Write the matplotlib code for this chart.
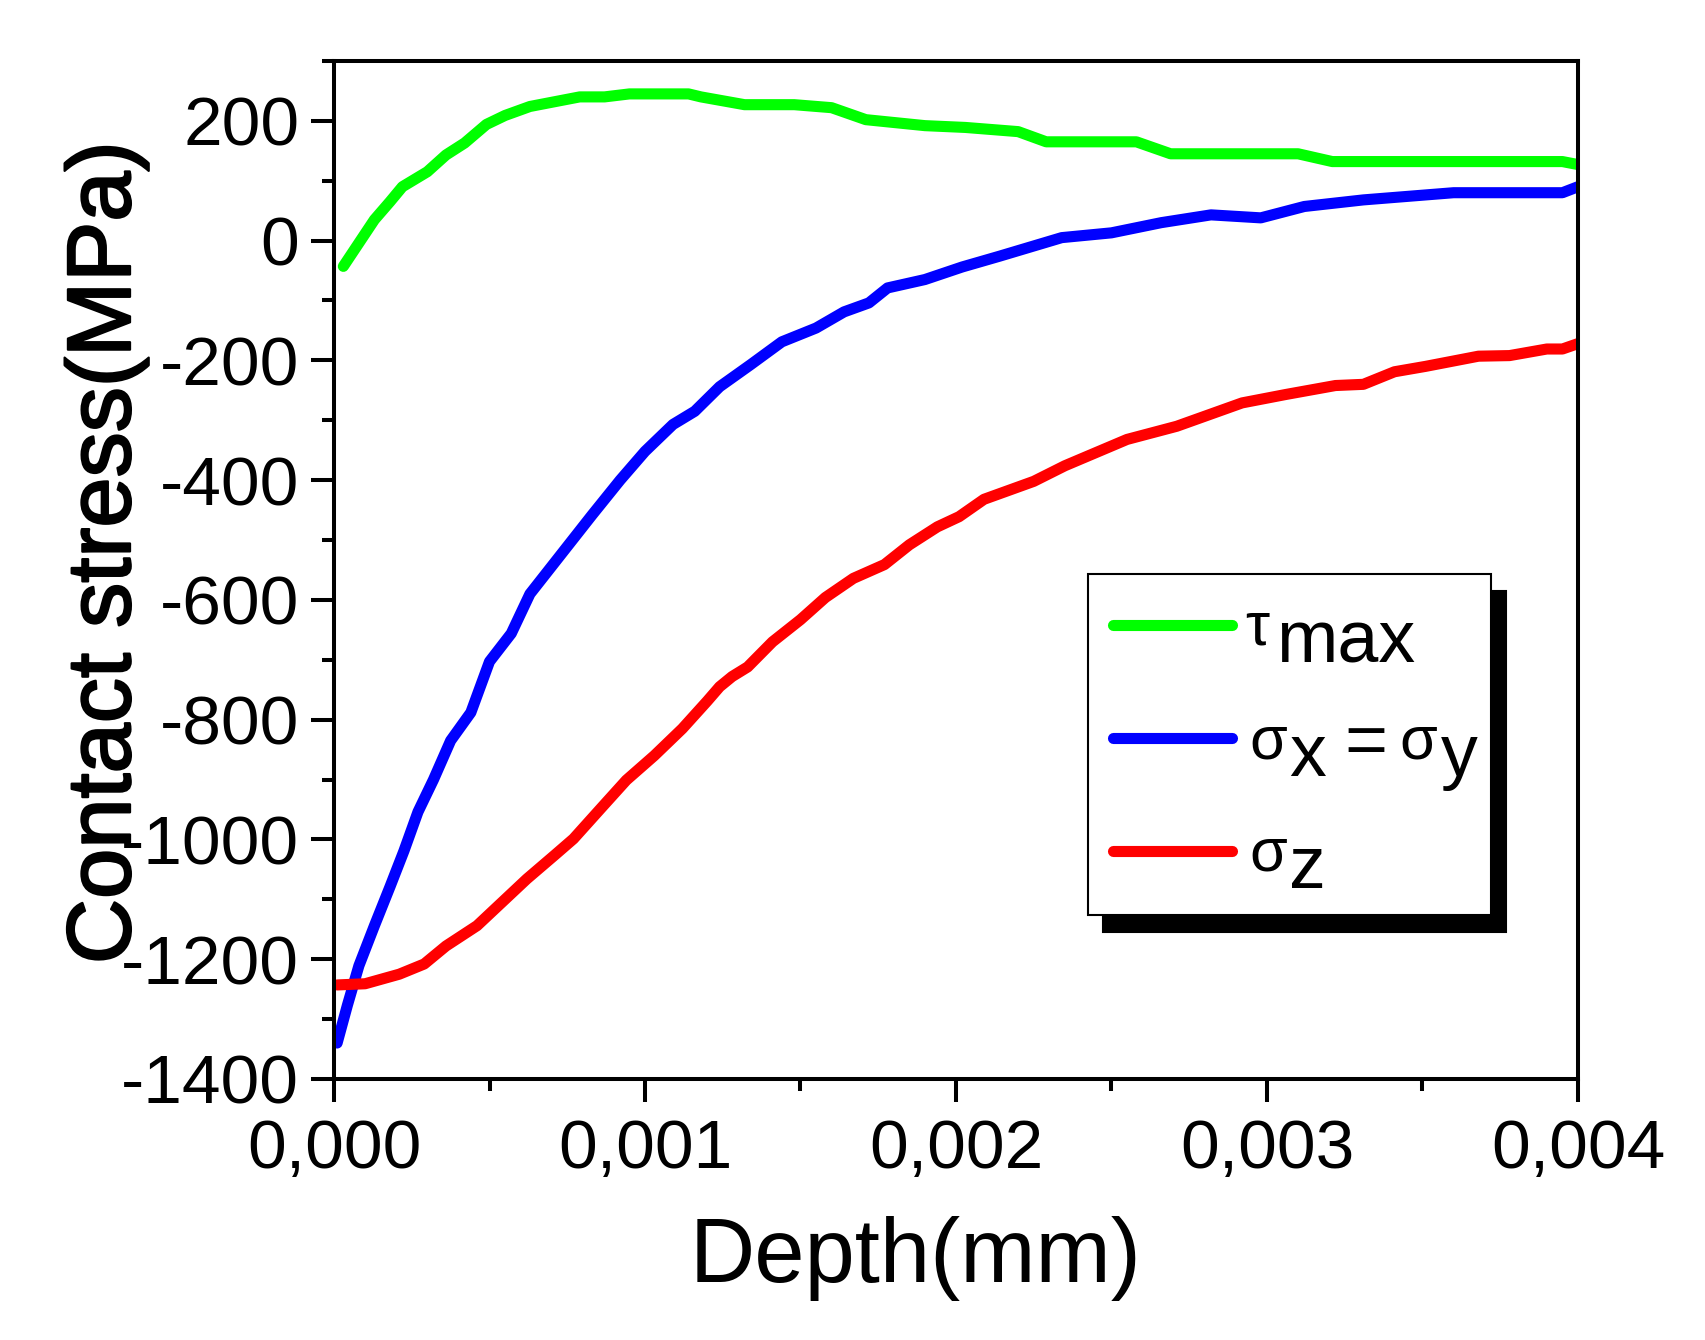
import matplotlib
matplotlib.use('Agg')
import matplotlib.pyplot as plt
import matplotlib.patheffects as pe
from matplotlib.ticker import MultipleLocator, FuncFormatter

plt.rcParams['font.family'] = ['Liberation Sans', 'DejaVu Sans']
plt.rcParams['axes.unicode_minus'] = False

# valores (profundidad en mm, tension en MPa)
depth_tau = [0.00003, 0.00008, 0.00013, 0.00018, 0.00022, 0.0003, 0.00036, 0.00042,
             0.00049, 0.00055, 0.00063, 0.00071, 0.00079, 0.00087, 0.00095, 0.00114,
             0.00118, 0.00132, 0.00148, 0.0016, 0.00171, 0.0019, 0.00203, 0.0022,
             0.00229, 0.00258, 0.00269, 0.0031, 0.00321, 0.00395, 0.004]
tau_max = [-43, -4, 35, 65, 90, 115, 143, 163, 194, 209, 224, 232, 240, 240, 245, 245,
           240, 227, 227, 222, 202, 192, 189, 182, 165, 165, 145, 145, 132, 132, 127]

depth_sx = [0.00001, 0.000043, 0.00008, 0.00013, 0.00018, 0.000225, 0.00027, 0.00032,
            0.000375, 0.00044, 0.0005, 0.00057, 0.00063, 0.00073, 0.00083, 0.00092,
            0.001, 0.00109, 0.00116, 0.00124, 0.00134, 0.00144, 0.00155, 0.00164,
            0.00172, 0.00178, 0.0019, 0.00202, 0.00214, 0.00234, 0.0025, 0.00266,
            0.00282, 0.00298, 0.00312, 0.00331, 0.0036, 0.00395, 0.004]
sigma_x = [-1340, -1277, -1211, -1144, -1079, -1019, -954, -900, -835, -788, -703, -656,
           -590, -524, -458, -400, -352, -307, -285, -244, -207, -169, -146, -119, -104,
           -79, -65, -44, -26, 5, 13, 30, 43, 38, 57, 68, 80, 80, 90]

depth_sz = [0.00001, 0.0001, 0.00021, 0.00029, 0.00036, 0.00046, 0.00054, 0.00062,
            0.00071, 0.00077, 0.00086, 0.00094, 0.00103, 0.00112, 0.0012, 0.00124,
            0.00128, 0.00133, 0.00141, 0.0015, 0.00158, 0.00167, 0.00177, 0.00185,
            0.00194, 0.00201, 0.00209, 0.00225, 0.00235, 0.00255, 0.00271, 0.00292,
            0.00306, 0.00322, 0.00331, 0.00341, 0.00351, 0.00368, 0.00378, 0.0039,
            0.00395, 0.004]
sigma_z = [-1243, -1241, -1225, -1208, -1178, -1144, -1105, -1066, -1026, -999, -947,
           -901, -860, -815, -769, -745, -728, -712, -670, -633, -596, -564, -541, -508,
           -478, -461, -432, -402, -376, -332, -310, -271, -257, -242, -240, -219, -210,
           -193, -192, -181, -181, -172]

fig = plt.figure(figsize=(17.05, 13.4), dpi=100)
ax = fig.add_axes([0.1959, 0.1948, 0.7296, 0.7597])

lw = 8
l1, = ax.plot(depth_tau, tau_max, color='#00ff00', lw=lw, solid_capstyle='round', solid_joinstyle='round')
l2, = ax.plot(depth_sx, sigma_x, color='#0000ff', lw=lw, solid_capstyle='round', solid_joinstyle='round')
l3, = ax.plot(depth_sz, sigma_z, color='#ff0000', lw=lw, solid_capstyle='round', solid_joinstyle='round')

ax.set_xlim(0, 0.004)
ax.set_ylim(-1400, 300)
ax.xaxis.set_major_locator(MultipleLocator(0.001))
ax.xaxis.set_minor_locator(MultipleLocator(0.0005))
ax.yaxis.set_major_locator(MultipleLocator(200))
ax.yaxis.set_minor_locator(MultipleLocator(100))
# coma decimal como en el original
ax.xaxis.set_major_formatter(FuncFormatter(lambda v, p: f'{v:.3f}'.replace('.', ',')))
ax.yaxis.set_major_formatter(FuncFormatter(lambda v, p: f'{v:.0f}'))

ax.tick_params(which='both', direction='out', width=2.9, top=False, right=False, labelsize=50)
ax.tick_params(which='major', length=16.5)
ax.tick_params(which='minor', length=8.6)
ax.tick_params(axis='x', pad=11.5)
ax.tick_params(axis='y', pad=8.6)
for s in ax.spines.values():
    s.set_linewidth(2.9)

ax.set_ylabel('Contact stress(MPa)', fontsize=65,
              path_effects=[pe.withStroke(linewidth=1.6, foreground='black')])
ax.yaxis.set_label_coords(-0.1487, 0.517)
ax.set_xlabel('Depth(mm)', fontsize=65)
ax.xaxis.set_label_coords(0.4676, -0.1346)

# leyenda: solo lineas y marco; el texto va aparte
leg = ax.legend([l1, l2, l3], ['', '', ''], loc='upper left',
                bbox_to_anchor=(0.6061, 0.496), borderaxespad=0, fontsize=50,
                handlelength=1.715, handletextpad=3.37, borderpad=0.36, labelspacing=0.71,
                fancybox=False, framealpha=1, edgecolor='black',
                shadow={'ox': 10.8, 'oy': -12.2, 'shade': 1.0, 'alpha': 1})
leg.get_frame().set_linewidth(1.5)

# subindices grandes como en Origin
label_parts = [
    [('τ', 44, 13, -20), ('max', 53, 44, -38)],
    [('σ', 44, 17, -20), ('x', 53, 57, -38), ('=', 53, 112, -26), ('σ', 44, 167, -20), ('y', 53, 209, -38)],
    [('σ', 44, 17, -19), ('z', 53, 57, -37)],
]
for h, parts in zip(leg.legend_handles, label_parts):
    for txt, size, dx, dy in parts:
        ax.annotate(txt, xy=(1, 0.5), xycoords=h, xytext=(dx, dy), textcoords='offset pixels',
                    fontsize=size, ha='left', va='baseline', zorder=6)

plt.savefig('out.png', dpi=100)
plt.close()
